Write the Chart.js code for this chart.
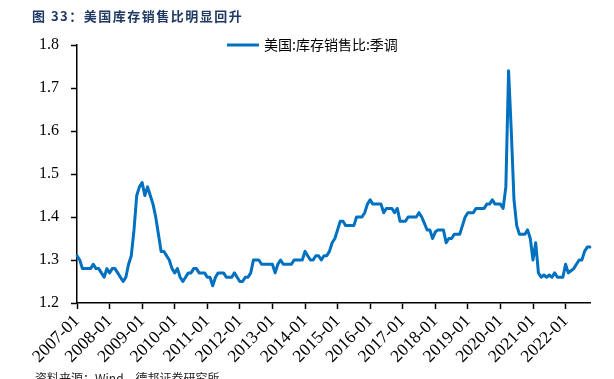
<!DOCTYPE html>
<html>
<head>
<meta charset="utf-8">
<script src="https://cdn.jsdelivr.net/npm/chart.js@4.4.1/dist/chart.umd.min.js"></script>
<style>
  html, body { margin: 0; padding: 0; background: #fff; }
  #wrap { position: relative; width: 614px; height: 379px; overflow: hidden; }
  #chart { position: absolute; left: 0; top: 0; }
  #title {
    position: absolute; left: 32px; top: 6px; white-space: nowrap;
    font: bold 13px "Noto Sans CJK SC"; color: #1f3864; letter-spacing: 1.5px;
  }
  #source {
    position: absolute; left: 35px; top: 372px; white-space: nowrap;
    font: 12px "Noto Sans CJK SC"; color: #222; line-height: 1;
  }
</style>
</head>
<body>
<div id="wrap">
  <canvas id="chart" width="614" height="379"></canvas>
  <div id="title">图 33：美国库存销售比明显回升</div>
  <div id="source">资料来源：Wind，德邦证券研究所</div>
</div>
<script>
  // 美国:库存销售比:季调, monthly
  const years = [2007, 2008, 2009, 2010, 2011, 2012, 2013, 2014, 2015, 2016, 2017, 2018, 2019, 2020, 2021, 2022];
  const v2007 = [1.31, 1.30, 1.28, 1.28, 1.28, 1.28, 1.29, 1.28, 1.28, 1.27, 1.26, 1.28];
  const v2008 = [1.27, 1.28, 1.28, 1.27, 1.26, 1.25, 1.26, 1.29, 1.31, 1.37, 1.45, 1.47];
  const v2009 = [1.48, 1.45, 1.47, 1.45, 1.43, 1.40, 1.36, 1.32, 1.32, 1.31, 1.30, 1.28];
  const v2010 = [1.27, 1.28, 1.26, 1.25, 1.26, 1.27, 1.27, 1.28, 1.28, 1.27, 1.27, 1.27];
  const v2011 = [1.26, 1.26, 1.24, 1.26, 1.27, 1.27, 1.27, 1.26, 1.26, 1.26, 1.27, 1.26];
  const v2012 = [1.25, 1.25, 1.26, 1.26, 1.27, 1.30, 1.30, 1.30, 1.29, 1.29, 1.29, 1.29];
  const v2013 = [1.29, 1.27, 1.29, 1.30, 1.29, 1.29, 1.29, 1.29, 1.30, 1.30, 1.30, 1.30];
  const v2014 = [1.32, 1.31, 1.30, 1.30, 1.31, 1.31, 1.30, 1.31, 1.31, 1.32, 1.34, 1.35];
  const v2015 = [1.37, 1.39, 1.39, 1.38, 1.38, 1.38, 1.38, 1.40, 1.40, 1.40, 1.41, 1.43];
  const v2016 = [1.44, 1.43, 1.43, 1.43, 1.43, 1.41, 1.42, 1.42, 1.42, 1.41, 1.42, 1.39];
  const v2017 = [1.39, 1.39, 1.40, 1.40, 1.40, 1.40, 1.41, 1.40, 1.385, 1.37, 1.37, 1.35];
  const v2018 = [1.365, 1.37, 1.37, 1.37, 1.34, 1.35, 1.35, 1.36, 1.36, 1.36, 1.38, 1.40];
  const v2019 = [1.41, 1.41, 1.41, 1.42, 1.42, 1.42, 1.42, 1.43, 1.43, 1.44, 1.43, 1.43];
  const v2020 = [1.43, 1.42, 1.47, 1.74, 1.60, 1.44, 1.38, 1.36, 1.36, 1.36, 1.37, 1.35];
  const v2021 = [1.30, 1.34, 1.27, 1.26, 1.265, 1.26, 1.265, 1.26, 1.27, 1.26, 1.26, 1.26];
  const v2022 = [1.29, 1.27, 1.275, 1.28, 1.29, 1.30, 1.30, 1.32, 1.33, 1.33];

  const yTicks = [1.2, 1.3, 1.4, 1.5, 1.6, 1.7, 1.8];
  const seriesLabel = "美国:库存销售比:季调";

  const values = [].concat(v2007, v2008, v2009, v2010, v2011, v2012, v2013, v2014,
    v2015, v2016, v2017, v2018, v2019, v2020, v2021, v2022);

  const months = [];
  years.forEach((y) => {
    for (let m = 1; m <= 12; m++) months.push(`${y}-${String(m).padStart(2, "0")}`);
  });
  const labels = months.slice(0, values.length);

  const isJan = (i) => labels[i] && labels[i].endsWith("-01");

  // legend sits on the top edge of the plot, like the original
  const topLegend = {
    id: "topLegend",
    afterDraw(chart) {
      const ds = chart.data.datasets[0];
      const ctx = chart.ctx;
      const y = chart.chartArea.top;
      ctx.save();
      ctx.strokeStyle = ds.borderColor;
      ctx.lineWidth = 3;
      ctx.beginPath();
      ctx.moveTo(227, y);
      ctx.lineTo(259, y);
      ctx.stroke();
      ctx.font = '14px "Noto Sans CJK SC"';
      ctx.fillStyle = "#000";
      ctx.textBaseline = "middle";
      ctx.fillText(ds.label, 264, y);
      ctx.restore();
    },
  };

  new Chart(document.getElementById("chart").getContext("2d"), {
    type: "line",
    data: {
      labels: labels,
      datasets: [{
        label: seriesLabel,
        data: values,
        borderColor: "#0070c0",
        borderWidth: 3,
        pointRadius: 0,
        tension: 0,
        borderJoinStyle: "round",
        borderCapStyle: "round",
      }],
    },
    options: {
      responsive: false,
      animation: false,
      layout: { padding: { left: 0, right: 24, top: 45, bottom: 0 } },
      plugins: {
        legend: { display: false },
        tooltip: { enabled: false },
      },
      scales: {
        x: {
          offset: false,
          border: { display: true, color: "#000", width: 1.5 },
          grid: {
            drawOnChartArea: false,
            drawTicks: true,
            tickLength: 6,
            tickWidth: 1.5,
            tickColor: (c) => (isJan(c.index) ? "#000" : "rgba(0,0,0,0)"),
          },
          ticks: {
            autoSkip: false,
            maxRotation: 45,
            minRotation: 45,
            padding: 2,
            color: "#000",
            font: { family: "Liberation Serif", size: 17.5 },
            callback: (val, i) => (isJan(i) ? labels[i] : ""),
          },
          afterFit: (scale) => { scale.height = 76; },
        },
        y: {
          min: yTicks[0],
          max: yTicks[yTicks.length - 1],
          border: { display: true, color: "#000", width: 1.5 },
          grid: {
            drawOnChartArea: false,
            drawTicks: true,
            tickLength: 6,
            tickWidth: 1.5,
            tickColor: "#000",
          },
          afterBuildTicks: (scale) => { scale.ticks = yTicks.map((v) => ({ value: v })); },
          ticks: {
            padding: 12,
            color: "#000",
            font: { family: "Liberation Serif", size: 16 },
            callback: (val) => Number(val).toFixed(1),
          },
          afterFit: (scale) => { scale.width = 77; },
        },
      },
    },
    plugins: [topLegend],
  });
</script>
</body>
</html>
